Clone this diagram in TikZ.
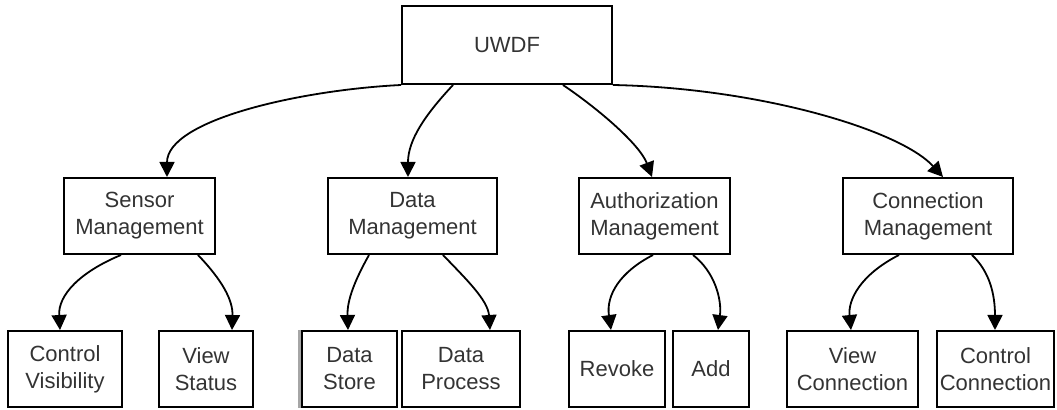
\documentclass[tikz,border=0pt]{standalone}
\usepackage{fontspec}
\setmainfont{Liberation Sans}
\usetikzlibrary{arrows.meta,calc}

\tikzset{
  box/.style={draw=black, line width=1pt, rectangle, inner sep=0pt,
              align=center, text=black!80, font=\fontsize{11}{13.5}\selectfont},
  link/.style={draw=black, line width=0.9pt,
               -{Triangle[length=7.5pt,width=7.5pt]}},
}

\begin{document}
\begin{tikzpicture}[x=0.5pt,y=-0.5pt]
  \useasboundingbox (0,0) rectangle (1057,410);

  % root
  \node[box, minimum width=105pt, minimum height=39pt] (uwdf) at (507,45) {UWDF};

  % second level
  \node[box, minimum width=75.5pt, minimum height=38pt] (sensor) at (139.5,216) {Sensor\\Management};
  \node[box, minimum width=84.5pt, minimum height=38pt] (data)   at (412.5,216) {Data\\Management};
  \node[box, minimum width=75.5pt, minimum height=38pt] (auth)   at (654.5,216) {Authorization\\Management};
  \node[box, minimum width=85pt,   minimum height=38pt] (conn)   at (928,216)   {Connection\\Management};

  % leaves
  \node[box, minimum width=57pt,   minimum height=38pt] (ctrlvis)    at (65,369)    {Control\\Visibility};
  \node[box, minimum width=47pt,   minimum height=38pt] (viewstatus) at (206,369)   {View\\Status};
  \node[box, minimum width=47.5pt, minimum height=38pt] (datastore)  at (349.5,369) {Data\\Store};
  \node[box, minimum width=59pt,   minimum height=38pt] (dataproc)   at (461,369)   {Data\\Process};
  \node[box, minimum width=48pt,   minimum height=38pt] (revoke)     at (617,369)   {Revoke};
  \node[box, minimum width=38pt,   minimum height=38pt] (add)        at (711,369)   {Add};
  \node[box, minimum width=65.5pt, minimum height=38pt] (viewconn)   at (852.5,369) {View\\Connection};
  \node[box, minimum width=58.5pt, minimum height=38pt] (ctrlconn)   at (995.5,369) {Control\\Connection};

  % doubled left edge of the Data Store box
  \draw[gray!70, line width=1.3pt] ([xshift=-0.9pt]datastore.north west) -- ([xshift=-0.9pt]datastore.south west);

  % root to second level
  \draw[link] (uwdf.south west)
     .. controls (300,90) and (167,120) .. ($(sensor.north)+(27.5,0)$);
  \draw[link] ($(uwdf.south west)+(52,0)$)
     .. controls (425,115) and (408,140) .. ($(data.north)+(-4.5,0)$);
  \draw[link] ($(uwdf.south east)+(-50,0)$)
     .. controls (600,110) and (640,145) .. ($(auth.north)+(-2.5,0)$);
  \draw[link] (uwdf.south east)
     .. controls (760,88) and (900,130) .. ($(conn.north)+(15,0)$);

  % second level to leaves
  \draw[link] ($(sensor.south west)+(58,0)$)
     .. controls (80,272) and (58,295) .. ($(ctrlvis.north)+(-5,0)$);
  \draw[link] ($(sensor.south)+(58.5,0)$)
     .. controls (222,280) and (233,300) .. ($(viewstatus.north)+(26,0)$);
  \draw[link] ($(data.south)+(-43.5,0)$)
     .. controls (355,280) and (347,300) .. ($(datastore.north)+(-1.5,0)$);
  \draw[link] ($(data.south)+(30.5,0)$)
     .. controls (465,278) and (488,300) .. ($(dataproc.north)+(29,0)$);
  \draw[link] ($(auth.south)+(-1.5,0)$)
     .. controls (620,272) and (606,295) .. ($(revoke.north)+(-6,0)$);
  \draw[link] ($(auth.south)+(38.5,0)$)
     .. controls (715,272) and (722,300) .. ($(add.north)+(7,0)$);
  \draw[link] ($(conn.south)+(-29,0)$)
     .. controls (860,275) and (848,300) .. ($(viewconn.north)+(-1.5,0)$);
  \draw[link] ($(conn.south)+(44,0)$)
     .. controls (990,272) and (995,295) .. ($(ctrlconn.north)+(-0.5,0)$);
\end{tikzpicture}
\end{document}
